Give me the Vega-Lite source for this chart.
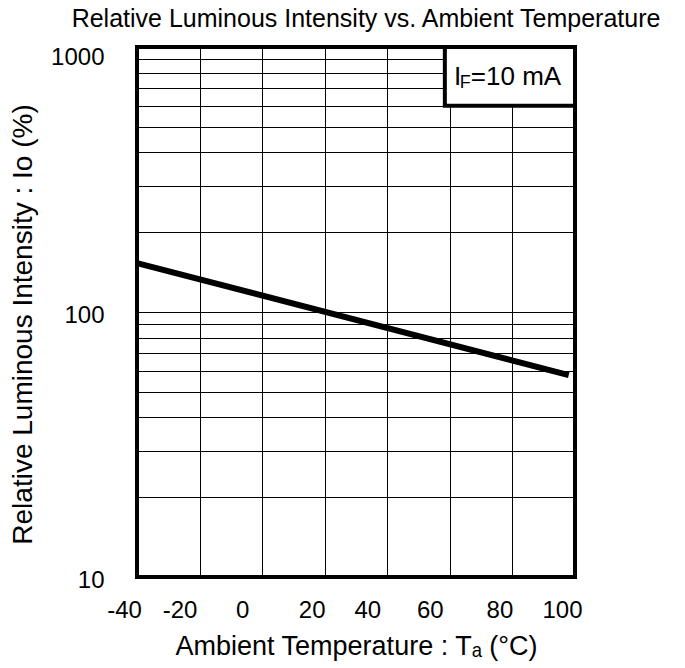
{
  "$schema": "https://vega.github.io/schema/vega-lite/v6.json",
  "width": 438,
  "height": 530,
  "autosize": "none",
  "padding": {"left": 137, "top": 47, "right": 110, "bottom": 91},
  "background": "white",
  "config": {
    "view": {"stroke": "black", "strokeWidth": 4},
    "font": "Liberation Sans"
  },
  "title": {
    "text": "Relative Luminous Intensity vs. Ambient Temperature",
    "font": "Liberation Sans",
    "fontSize": 25,
    "fontWeight": "normal",
    "color": "black",
    "anchor": "middle",
    "frame": "group",
    "baseline": "alphabetic",
    "dx": 10,
    "offset": -7
  },
  "layer": [
    {
      "data": {"values": [{"t": -40, "v": 153}, {"t": 98, "v": 57.8}]},
      "mark": {"type": "line", "color": "black", "strokeWidth": 6},
      "encoding": {
        "x": {
          "field": "t",
          "type": "quantitative",
          "scale": {"domain": [-40, 100], "nice": false, "zero": false},
          "axis": {
            "values": [-40, -30, -20, -10, 0, 10, 20, 30, 40, 50, 60, 70, 80, 90, 100],
            "labelExpr": "datum.value % 20 == 0 ? toString(datum.value) : ''",
            "labelFlush": false,
            "labelOverlap": false,
            "labelOffset": {"condition": {"test": "datum.value == -20 || datum.value == 0 || datum.value == 40 || datum.value == 60", "value": -20}, "value": -13},
            "grid": true,
            "gridColor": "black",
            "gridWidth": 1,
            "gridOpacity": 1,
            "ticks": false,
            "tickSize": 0,
            "domain": false,
            "labelFontSize": 24,
            "labelColor": "black",
            "labelPadding": 21,
            "labelFont": "Liberation Sans",
            "title": "Ambient Temperature : Tₐ (°C)",
            "titleFont": "Liberation Sans",
            "titleFontSize": 27,
            "titleFontWeight": "normal",
            "titleColor": "black",
            "titlePadding": 11
          }
        },
        "y": {
          "field": "v",
          "type": "quantitative",
          "scale": {"type": "log", "domain": [10, 1000], "nice": false},
          "axis": {
            "values": [10, 20, 30, 40, 50, 60, 70, 80, 90, 100, 200, 300, 400, 500, 600, 700, 800, 900, 1000],
            "labelExpr": "datum.value == 10 || datum.value == 100 || datum.value == 1000 ? toString(datum.value) : ''",
            "labelOverlap": false,
            "labelOffset": {"condition": {"test": "datum.value == 1000", "value": 10}, "value": 3},
            "grid": true,
            "gridColor": "black",
            "gridWidth": 1,
            "gridOpacity": 1,
            "ticks": false,
            "tickSize": 0,
            "domain": false,
            "labelFontSize": 24,
            "labelColor": "black",
            "labelPadding": 33,
            "labelFont": "Liberation Sans",
            "title": "Relative Luminous Intensity : Io (%)",
            "titleFont": "Liberation Sans",
            "titleFontSize": 28,
            "titleFontWeight": "normal",
            "titleColor": "black",
            "titlePadding": 13,
            "titleY": 277
          }
        }
      }
    },
    {
      "data": {"values": [{"x1": 58.4, "x2": 100, "y1": 600, "y2": 1000}]},
      "mark": {"type": "rect", "fill": "white", "stroke": "black", "strokeWidth": 4},
      "encoding": {
        "x": {"field": "x1", "type": "quantitative", "scale": {"domain": [-40, 100], "nice": false, "zero": false}},
        "x2": {"field": "x2"},
        "y": {"field": "y1", "type": "quantitative", "scale": {"type": "log", "domain": [10, 1000], "nice": false}},
        "y2": {"field": "y2"}
      }
    },
    {
      "data": {"values": [{"x": 61.3, "y": 719, "label": "I"}]},
      "mark": {"type": "text", "align": "left", "baseline": "alphabetic", "fontSize": 26, "font": "Liberation Sans", "color": "black"},
      "encoding": {
        "x": {"field": "x", "type": "quantitative", "scale": {"domain": [-40, 100], "nice": false, "zero": false}},
        "y": {"field": "y", "type": "quantitative", "scale": {"type": "log", "domain": [10, 1000], "nice": false}},
        "text": {"field": "label"}
      }
    },
    {
      "data": {"values": [{"x": 63.2, "y": 700, "label": "F"}]},
      "mark": {"type": "text", "align": "left", "baseline": "alphabetic", "fontSize": 18, "font": "Liberation Sans", "color": "black"},
      "encoding": {
        "x": {"field": "x", "type": "quantitative", "scale": {"domain": [-40, 100], "nice": false, "zero": false}},
        "y": {"field": "y", "type": "quantitative", "scale": {"type": "log", "domain": [10, 1000], "nice": false}},
        "text": {"field": "label"}
      }
    },
    {
      "data": {"values": [{"x": 66.7, "y": 719, "label": "=10 mA"}]},
      "mark": {"type": "text", "align": "left", "baseline": "alphabetic", "fontSize": 26, "font": "Liberation Sans", "color": "black"},
      "encoding": {
        "x": {"field": "x", "type": "quantitative", "scale": {"domain": [-40, 100], "nice": false, "zero": false}},
        "y": {"field": "y", "type": "quantitative", "scale": {"type": "log", "domain": [10, 1000], "nice": false}},
        "text": {"field": "label"}
      }
    }
  ]
}
